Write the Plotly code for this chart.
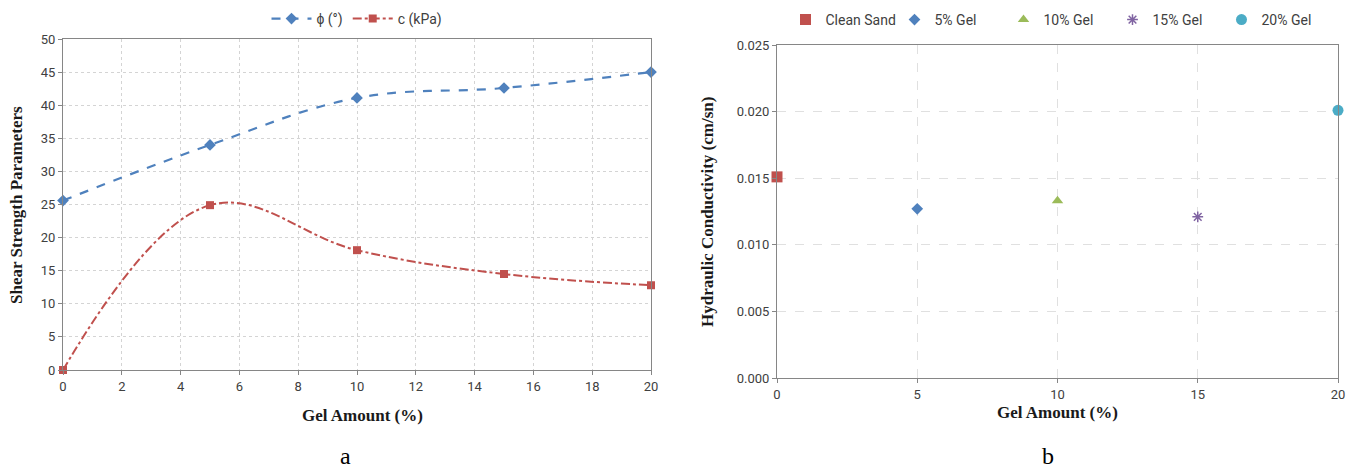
import plotly.graph_objects as go

gel = [0, 5, 10, 15, 20]
phi = [25.6, 34.0, 41.1, 42.6, 45.0]
coh = [0.0, 24.9, 18.1, 14.5, 12.8]

hc_names = ["Clean Sand", "5% Gel", "10% Gel", "15% Gel", "20% Gel"]
hc_x = [0, 5, 10, 15, 20]
hc_y = [0.0151, 0.0127, 0.0133, 0.0121, 0.0201]
hc_colors = ["#C0504D", "#4F81BD", "#9BBB59", "#8064A2", "#4BACC6"]
hc_symbols = ["square", "diamond", "triangle-up", "asterisk", "circle"]
hc_sizes = [11, 9, 10, 9, 11]

W, H = 1359, 468
tickfont = dict(family="Liberation Sans Narrow, Roboto, sans-serif", size=13, color="#404040")
legfont = dict(family="Liberation Sans Narrow, Roboto, sans-serif", size=14, color="#404040")
titlefont = dict(family="Liberation Serif, serif", size=17, color="#1a1a1a")

fig = go.Figure()
fig.add_trace(go.Scatter(x=gel, y=phi, name="ϕ (°)", mode="lines+markers", cliponaxis=False,
                         line=dict(color="#4F81BD", width=2.2, dash="dash", shape="spline", smoothing=1.1),
                         marker=dict(symbol="diamond", size=9, color="#4F81BD"),
                         xaxis="x", yaxis="y", legend="legend"))
fig.add_trace(go.Scatter(x=gel, y=coh, name="c (kPa)", mode="lines+markers", cliponaxis=False,
                         line=dict(color="#C0504D", width=2, dash="dashdot", shape="spline", smoothing=1.1),
                         marker=dict(symbol="square", size=8, color="#C0504D"),
                         xaxis="x", yaxis="y", legend="legend"))

for n, xv, yv, c, s, sz in zip(hc_names, hc_x, hc_y, hc_colors, hc_symbols, hc_sizes):
    mk = dict(symbol=s, size=sz, color=c)
    if s == "asterisk":
        mk["line"] = dict(color=c, width=1.5)
    fig.add_trace(go.Scatter(x=[xv], y=[yv], name=n, mode="markers", marker=mk, cliponaxis=False,
                             xaxis="x2", yaxis="y2", legend="legend2"))

ax_common = dict(showline=True, linecolor="#868686", linewidth=1, mirror=True,
                 ticks="outside", ticklen=4, tickcolor="#868686", tickfont=tickfont,
                 zeroline=False)

fig.update_layout(
    width=W, height=H,
    margin=dict(l=0, r=0, t=0, b=0, autoexpand=False),
    paper_bgcolor="white", plot_bgcolor="white",
    xaxis=dict(domain=[63 / W, 651 / W], range=[0, 20], dtick=2, anchor="y",
               showgrid=True, gridcolor="#D4D4D4", griddash="dot", **ax_common),
    yaxis=dict(domain=[(H - 370) / H, (H - 39) / H], range=[0, 50], dtick=5, anchor="x",
               showgrid=True, gridcolor="#D4D4D4", griddash="dot", **ax_common),
    xaxis2=dict(domain=[777 / W, 1338 / W], range=[0, 20], dtick=5, anchor="y2",
                showgrid=True, gridcolor="#E0E0E0", griddash="dash", **ax_common),
    yaxis2=dict(domain=[(H - 378) / H, (H - 45) / H], range=[0, 0.025], dtick=0.005,
                tickformat=".3f", anchor="x2",
                showgrid=True, gridcolor="#E0E0E0", griddash="dash", **ax_common),
    legend=dict(orientation="h", x=357 / W, y=1 - 19 / H, xanchor="center", yanchor="middle",
                font=legfont, bgcolor="rgba(0,0,0,0)", itemwidth=40),
    legend2=dict(orientation="h", x=1058 / W, y=1 - 20 / H, xanchor="center", yanchor="middle",
                 font=legfont, bgcolor="rgba(0,0,0,0)", itemwidth=30, entrywidth=64),
    showlegend=True,
)

ann = [
    dict(text="<b>Shear Strength Parameters</b>", x=16 / W, y=(H - 205) / H, textangle=-90,
         font=titlefont),
    dict(text="<b>Gel Amount (%)</b>", x=362 / W, y=1 - 415 / H, font=titlefont),
    dict(text="a", x=345 / W, y=1 - 456 / H, font=dict(family="Liberation Serif, serif", size=24, color="#000")),
    dict(text="<b>Hydraulic Conductivity (cm/sn)</b>", x=708 / W, y=(H - 212) / H, textangle=-90,
         font=titlefont),
    dict(text="<b>Gel Amount (%)</b>", x=1057 / W, y=1 - 412 / H, font=titlefont),
    dict(text="b", x=1048 / W, y=1 - 456 / H, font=dict(family="Liberation Serif, serif", size=24, color="#000")),
]
for a in ann:
    a.update(xref="paper", yref="paper", showarrow=False, xanchor="center", yanchor="middle")
fig.update_layout(annotations=ann)

fig.write_html("out.html")
